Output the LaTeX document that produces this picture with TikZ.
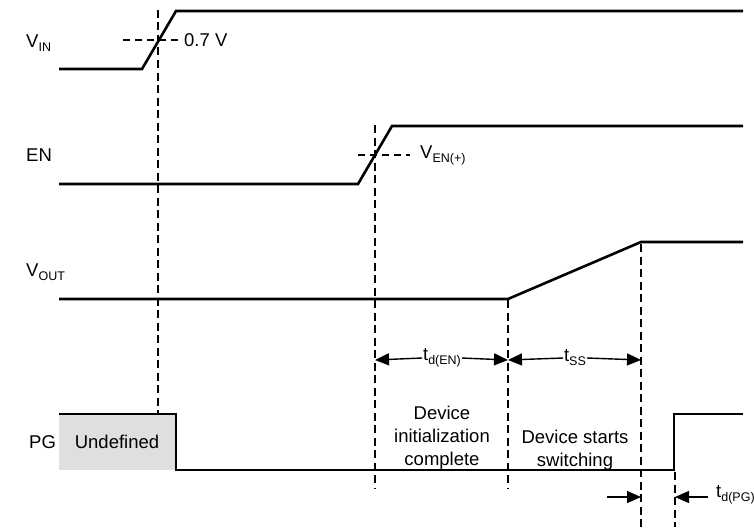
\documentclass[tikz,border=0pt]{standalone}
\usepackage{fontspec}
\setmainfont{Liberation Sans}
\usetikzlibrary{arrows.meta}
\newcommand\lsub[1]{\raisebox{-4pt}{\fontsize{12.5}{13}\selectfont #1}}
\begin{document}
\begin{tikzpicture}[x=1pt,y=-1pt,
  signal/.style={line width=2.6pt,line join=miter},
  guide/.style={line width=1.1pt,dash pattern=on 8pt off 4.5pt},
  hguide/.style={line width=1.1pt,dash pattern=on 7pt off 5pt},
  dimarrow/.style={line width=1.4pt,-{Triangle[length=14pt,width=12pt]}},
  lbl/.style={font=\fontsize{18.5}{23}\selectfont,inner sep=0pt},
  cover/.style={font=\fontsize{18.5}{23}\selectfont,fill=white,inner sep=0.8pt}]
\useasboundingbox (0,0) rectangle (754,527);
% undefined region
\fill[gray!25] (59,414) rectangle (176,470);
\node[lbl] (undef) at (117,442) {Undefined};
% guides
\draw[guide] (158,10) -- (158,414);
\draw[hguide] (123,40) -- (180,40);
\draw[guide] (375,125) -- (375,488);
\draw[hguide] (358,155) -- (410,155);
\draw[guide] (508,300) -- (508,488);
\draw[guide] (641,244) -- (641,527);
\draw[guide] (675,472) -- (675,527);
% signals
\draw[signal] (59,69) -- (142,69) -- (176,11) -- (743,11);
\draw[signal] (59,184) -- (358,184) -- (392,126) -- (743,126);
\draw[signal] (59,299) -- (508,299) -- (641,242) -- (743,242);
\draw[signal] (59,414) -- (176,414) -- (176,470) -- (674,470) -- (674,414) -- (743,414);
% signal names
\node[lbl,anchor=west] (vin) at (26,43) {V\lsub{IN}};
\node[lbl,anchor=west] (en) at (26,155) {EN};
\node[lbl,anchor=west] (vout) at (26,272) {V\lsub{OUT}};
\node[lbl,anchor=west] (pg) at (29,442) {PG};
% thresholds
\node[lbl,anchor=west] (th1) at (184,40) {0.7 V};
\node[lbl,anchor=west] (th2) at (420,155) {V\lsub{EN(+)}};
% dimensions
\coordinate (a1) at (375,360);
\coordinate (a2) at (508,360);
\coordinate (a3) at (641,360);
\node[cover] (tden) at (442,358) {t\lsub{d(EN)}};
\node[cover] (tss) at (575,358) {t\lsub{SS}};
\draw[dimarrow] (tden.west) -- (a1);
\draw[dimarrow] (tden.east) -- (a2);
\draw[dimarrow] (tss.west) -- (a2);
\draw[dimarrow] (tss.east) -- (a3);
\coordinate (p0) at (607,497);
\coordinate (p1) at (641,497);
\coordinate (p2) at (675,497);
\coordinate (p3) at (708,497);
\draw[dimarrow] (p0) -- (p1);
\draw[dimarrow] (p3) -- (p2);
\node[lbl,anchor=west] (tdpg) at (716,495) {t\lsub{d(PG)}};
% notes
\node[lbl,align=center] (n1) at (442,438) {Device\\initialization\\complete};
\node[lbl,align=center] (n2) at (575,450) {Device starts\\switching};
\end{tikzpicture}
\end{document}
